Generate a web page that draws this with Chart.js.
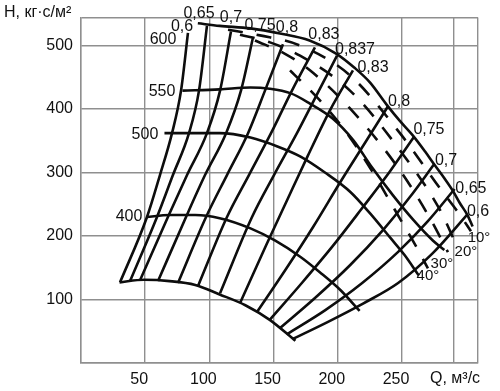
<!DOCTYPE html>
<html>
<head>
<meta charset="utf-8">
<script src="https://cdn.jsdelivr.net/npm/chart.js@4/dist/chart.umd.min.js"></script>
<style>
html,body{margin:0;padding:0;background:#fff;}
#wrap{width:500px;height:391px;position:relative;}
</style>
</head>
<body>
<div id="wrap"><canvas id="c" width="500" height="391"></canvas></div>
<script>
// ---- axis ticks ----
const Q_LABELS = [50, 100, 150, 200, 250];
const H_LABELS = [100, 200, 300, 400, 500];
const Q_GRID = [0, 50, 100, 150, 200, 250, 290, 309.2];
const H_GRID = [0, 100, 200, 300, 400, 500, 544];

// ---- H-Q curves for speeds (Q, H) ----
const n600 = [[91,535],[108,531],[132,527],[155,519],[178,508],[199,487],[213,465],[225,442],[238,407],[248,382],[259,357],[268,333],[275,313],[283,291],[290,270],[295,252],[301,233],[305,215]];
const n550 = [[79,429],[108,431],[132,434],[147,432],[163,425],[178,409],[196,385],[212,351],[227,307],[243,264],[259,225],[274,193],[283,178]];
const n500 = [[65,362],[85,362],[108,362],[132,355],[153,341],[171,325],[190,300],[210,269],[225,236],[241,197],[252,170],[263,138]];
const n400 = [[51,230],[69,233],[89,233],[108,228],[132,212],[151,193],[171,167],[186,143],[202,115],[217,82]];
const nMin = [[30,127],[49,131],[69,129],[89,123],[108,108],[128,91],[147,68],[167,35]];

// ---- similar-regime lines (efficiency) ----
const L1  = [[30.4,127],[51.4,230],[61.5,296],[70.9,362],[77.9,429],[83.3,520]];
const L2  = [[38.2,129],[59.2,230],[71.6,296],[84.1,362],[91.9,429],[98.1,531]];
const L3  = [[45.9,130],[67.7,230],[82.6,296],[98.1,362],[108.3,429],[116.8,522]];
const L4  = [[60,129],[81.8,230],[96.6,296],[113,362],[124.6,429],[134,513]];
const L5  = [[75.5,126],[97.4,230],[113.7,296],[130.1,362],[143.3,429],[157.3,502]];
const L6  = [[91.1,121],[113.7,230],[130.8,296],[148,362],[164.3,429],[182.2,497]];
const L7  = [[108.3,110],[133.2,230],[150.3,296],[168.2,362],[185.3,429],[199.4,484]];
const L8  = [[123.8,94],[144.1,185],[160.4,256],[176.8,327],[193.9,398],[211.8,461]];
const L9  = [[137,80],[159,146],[181,215],[202,285],[221,346],[239,404]];
const L10 = [[147,68],[172,126],[196,184],[219,244],[240,300],[259,355]];
const L11 = [[155,55],[182,102],[209.5,154],[235,209],[256,261],[275,313]];
const L12 = [[160,45],[190,83],[219,126],[247,175],[270,223],[291,274]];
const L13 = [[165,38],[192,64.5],[220,94],[247,126],[274,173],[301,234]];

// ---- guide vane angle curves (dashed) ----
const d10 = [[114.5,525],[139.4,516],[170.6,500],[209.5,453],[248.4,362],[279.6,275],[295.2,233],[303.7,207.5]];
const d20 = [[123.8,517],[147.2,505],[170.6,484],[209.5,429],[248.4,335],[279.6,241],[292.1,187]];
const d30 = [[135.5,508],[158.9,487],[178.3,461],[209.5,401],[248.4,303.5],[271.8,228],[285.8,174.5]];
const d40 = [[162.8,461],[186.1,413.5],[205.6,366],[227.4,300],[244.5,241],[261.7,181],[270.2,149]];

// ---- labels ----
const speedTexts = ['600','550','500','400'];
const speedAnchors = [[63.9,509],[63.1,428],[49.8,360],[37.4,230]];
const effTexts = ['0,6','0,65','0,7','0,75','0,8','0,83','0,837','0,83','0,8','0,75','0,7','0,65','0,6'];
const effAnchors = [[78.7,530],[91.9,550],[116.8,544],[139.4,531],[160.4,528],[189.2,517],[213.4,494],[227.4,465],[247.7,412],[271,368],[284.3,318],[303.7,275],[309.2,239]];
const angleTexts = ['10°','20°','30°','40°'];
const angleAnchors = [[310,196.5],[299.8,174.5],[281.1,155.7],[270.2,136.8]];
const yTitle = 'H, кг·с/м²';
const xTitle = 'Q, м³/с';

const FONT = '"Liberation Sans", Arial, Helvetica, sans-serif';
const toPts = a => a.map(([x, y]) => ({x, y}));

const solidCurves = [n600, n550, n500, n400, nMin, L1, L2, L3, L4, L5, L6, L7, L8, L9, L10, L11, L12, L13];
const dashedCurves = [d10, d20, d30, d40];

const datasets = [];
solidCurves.forEach(a => datasets.push({
  data: toPts(a), showLine: true, borderColor: '#0d0d0d', borderWidth: 2.6,
  pointRadius: 0, fill: false, cubicInterpolationMode: 'monotone'
}));
dashedCurves.forEach(a => datasets.push({
  data: toPts(a), showLine: true, borderColor: '#0d0d0d', borderWidth: 2.6,
  borderDash: [15, 14], pointRadius: 0, fill: false, cubicInterpolationMode: 'monotone'
}));

const textPlugin = {
  id: 'texts',
  afterDraw(chart) {
    const {ctx, scales: {x, y}} = chart;
    ctx.save();
    ctx.fillStyle = '#111';
    ctx.textBaseline = 'middle';
    ctx.textAlign = 'center';
    ctx.font = '16px ' + FONT;
    const put = (t, p) => ctx.fillText(t, x.getPixelForValue(p[0]), y.getPixelForValue(p[1]));
    speedTexts.forEach((t, i) => put(t, speedAnchors[i]));
    effTexts.forEach((t, i) => put(t, effAnchors[i]));
    ctx.font = '15px ' + FONT;
    angleTexts.forEach((t, i) => put(t, angleAnchors[i]));
    ctx.font = '16px ' + FONT;
    ctx.textAlign = 'left';
    ctx.fillText(yTitle, 4, 13);
    ctx.fillText(xTitle, 430, 379);
    ctx.restore();
  }
};

new Chart(document.getElementById('c'), {
  type: 'scatter',
  data: { datasets },
  plugins: [textPlugin],
  options: {
    responsive: false,
    animation: false,
    events: [],
    devicePixelRatio: 1,
    layout: { padding: { top: 17, right: 22, left: 0, bottom: 0 } },
    plugins: { legend: { display: false }, tooltip: { enabled: false }, title: { display: false } },
    scales: {
      x: {
        type: 'linear', min: 0, max: 309.2,
        afterBuildTicks: s => { s.ticks = Q_GRID.map(v => ({value: v})); },
        afterFit: s => { s.height = 28; },
        grid: { color: '#8f8f8f', lineWidth: 1.4, drawTicks: false },
        border: { display: true, color: '#8f8f8f', width: 1.4 },
        ticks: {
          font: { size: 16, family: FONT }, color: '#111', padding: 7, labelOffset: -6,
          maxRotation: 0, autoSkip: false,
          callback: v => Q_LABELS.includes(v) ? String(v) : ''
        }
      },
      y: {
        type: 'linear', min: 0, max: 544,
        afterBuildTicks: s => { s.ticks = H_GRID.map(v => ({value: v})); },
        afterFit: s => { s.width = 81; },
        grid: { color: '#8f8f8f', lineWidth: 1.4, drawTicks: false },
        border: { display: true, color: '#8f8f8f', width: 1.4 },
        ticks: {
          font: { size: 16, family: FONT }, color: '#111', padding: 8, autoSkip: false,
          callback: v => H_LABELS.includes(v) ? String(v) : ''
        }
      }
    }
  }
});
</script>
</body>
</html>
